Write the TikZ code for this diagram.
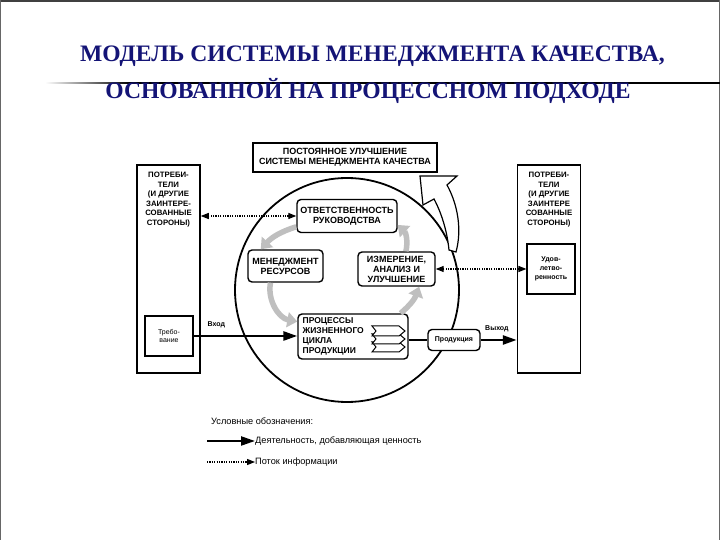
\documentclass[tikz,border=0pt]{standalone}
\usepackage{fontspec}
\setmainfont{Liberation Serif}
\newfontfamily\diagfont{Liberation Sans}
\usetikzlibrary{arrows.meta,calc,positioning}
\definecolor{titleblue}{RGB}{20,20,118}
\tikzstyle{titletext}=[font=\bfseries\fontsize{23.6}{28}\selectfont,text=titleblue,inner sep=0pt]
\tikzstyle{custbox}=[draw,line width=1.5pt,minimum width=63pt,minimum height=208pt,inner sep=0pt]
\tikzstyle{custtext}=[font=\diagfont\bfseries\fontsize{7.8}{9.5}\selectfont,align=center,inner sep=0pt,anchor=north]
\tikzstyle{smallbox}=[draw,line width=1.1pt,inner sep=0pt,fill=white,font=\diagfont\fontsize{7}{8.5}\selectfont,align=center]
\tikzstyle{procbox}=[draw,line width=1.4pt,rounded corners=4pt,fill=white,inner sep=0pt,font=\diagfont\bfseries\fontsize{9}{10}\selectfont,align=center]
\tikzstyle{flow} = [draw,line width=2.6pt,-{Triangle[length=14pt,width=9pt]}]
\tikzstyle{info} = [draw,line width=1.2pt,dash pattern=on 1.2pt off 1.2pt,{Triangle[length=8pt,width=6pt]}-{Triangle[length=8pt,width=6pt]}]
\tikzstyle{cyclearrow} = [draw,line width=5.5pt,gray!50,-{Triangle[length=10pt,width=15pt]}]
\tikzstyle{legendtext} = [font=\diagfont\fontsize{9.2}{10}\selectfont,anchor=west,inner sep=0pt]
\tikzstyle{flowlabel} = [font=\diagfont\bfseries\fontsize{7}{8}\selectfont,above=3pt]

\begin{document}
\begin{tikzpicture}[x=1pt,y=1pt]
\useasboundingbox (0,0) rectangle (720,540);

% slide frame and rule
\draw[black!75, line width=2pt] (0,539) -- (720,539);
\draw[black!60, line width=0.8pt] (0.4,0) -- (0.4,540) (719.6,0) -- (719.6,540);
\shade[left color=white, right color=black] (45,456.3) rectangle (130,457.7);
\draw[line width=1.4pt] (129,457) -- (720,457);

% title
\node[titletext] (title1) at (372.5,484) {МОДЕЛЬ СИСТЕМЫ МЕНЕДЖМЕНТА КАЧЕСТВА,};
\node[titletext] (title2) at (368,449) {ОСНОВАННОЙ НА ПРОЦЕССНОМ ПОДХОДЕ};

% the cycle
\draw[line width=1.8pt] (347,250) circle (112);

% customers
\node[custbox] (custL) at (168.5,271) {};
\node[custtext] (custLtext) at (168.5,368) {ПОТРЕБИ-\\ТЕЛИ\\(И ДРУГИЕ\\ЗАИНТЕРЕ-\\СОВАННЫЕ\\СТОРОНЫ)};
\node[custbox] (custR) at (549,271) {};
\node[custtext] (custRtext) at (549,368) {ПОТРЕБИ-\\ТЕЛИ\\(И ДРУГИЕ\\ЗАИНТЕРЕ\\СОВАННЫЕ\\СТОРОНЫ)};
\node[smallbox, minimum width=48pt, minimum height=40pt] (treb) at (169,204) {Требо-\\вание};
\node[smallbox, minimum width=48pt, minimum height=50pt, font=\diagfont\bfseries\fontsize{7}{9}\selectfont] (udov) at (551,271) {Удов-\\летво-\\ренность};

% processes
\node[draw, line width=1.1pt, fill=white, inner sep=0pt, minimum width=184pt, minimum height=29pt,
      font=\diagfont\bfseries\fontsize{9}{10}\selectfont, align=center] (improve) at (345,382.5)
      {ПОСТОЯННОЕ УЛУЧШЕНИЕ\\СИСТЕМЫ МЕНЕДЖМЕНТА КАЧЕСТВА};
\node[procbox, minimum width=100pt, minimum height=33pt] (resp) at (347,324) {ОТВЕТСТВЕННОСТЬ\\РУКОВОДСТВА};
\node[procbox, minimum width=75pt, minimum height=32pt] (res) at (285.5,274) {МЕНЕДЖМЕНТ\\РЕСУРСОВ};
\node[procbox, minimum width=77pt, minimum height=34pt] (meas) at (396.5,271) {ИЗМЕРЕНИЕ,\\АНАЛИЗ И\\УЛУЧШЕНИЕ};
\node[procbox, minimum width=110pt, minimum height=45pt] (proc) at (353,203.5) {};
\node[procbox, draw=none, fill=none, align=left, anchor=west, font=\diagfont\bfseries\fontsize{8.5}{10}\selectfont]
      (proctext) at (302,204) {ПРОЦЕССЫ\\ЖИЗНЕННОГО\\ЦИКЛА\\ПРОДУКЦИИ};
\node[procbox, minimum width=52pt, minimum height=21pt, font=\diagfont\bfseries\fontsize{7}{8}\selectfont] (prod) at (454,200) {Продукция};

% life cycle sheets
\foreach \y in {198,206,214}
    \filldraw[fill=white, line width=1pt] (372,\y) -- (399,\y) -- (405,\y-5) -- (399,\y-10) -- (372,\y-10) -- (376,\y-5) -- cycle;

% improvement arrow
\filldraw[fill=white, line width=1.2pt] (449,290) .. controls (447,310) and (441,328) .. (434,341) -- (423,335)
    -- (420,364) -- (457,364) -- (447,355) .. controls (458,335) and (462,310) .. (456,288) -- cycle;

% cycle arrows
\foreach \source/ \dest/\bend in {resp.192/res.146/15, res.228/proc.165/45, proc.26/meas.-38/15, meas.62/resp.-10/30}
    \path[cyclearrow] (\source) to[bend right=\bend] (\dest);

% flows
\path[flow] (treb.east) -- node[flowlabel, pos=0.22] {Вход} (treb.east -| proc.west);
\draw[line width=1.5pt] (prod.west -| proc.east) -- (prod.west);
\path[flow] (prod.east) -- node[flowlabel, pos=0.45] {Выход} (prod.east -| custR.west);
\path[info] (resp.west) -- (resp.west -| custL.east);
\path[info] (udov.west) -- (udov.west -| meas.east);

% legend
\node[legendtext] (legtitle) at (211,119) {Условные обозначения:};
\coordinate (flowstart) at (207,99);
\node[legendtext] (legflow) at (255,99) {Деятельность, добавляющая ценность};
\path[flow, line width=2.2pt] (flowstart) -- (legflow.west);
\coordinate (infostart) at (207,78);
\node[legendtext] (leginfo) at (255,78) {Поток информации};
\path[info, {-Triangle[length=8pt,width=6pt]}] (infostart) -- (leginfo.west);
\end{tikzpicture}
\end{document}
